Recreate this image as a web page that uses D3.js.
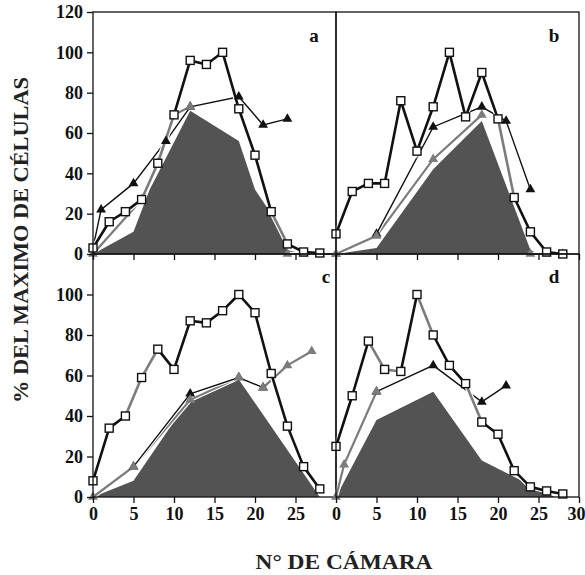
<!DOCTYPE html>
<html>
<head>
<meta charset="utf-8">
<script src="https://cdn.jsdelivr.net/npm/d3@7"></script>
<style>
  body { margin: 0; background: #fff; }
  text { font-family: "Liberation Serif", "DejaVu Serif", serif; }
</style>
</head>
<body>
<svg id="chart" width="585" height="575"></svg>
<script>
// chamber numbers of the open-square series
var sqX = [0, 2, 4, 6, 8, 10, 12, 14, 16, 18, 20, 22, 24, 26, 28];

// open squares, % of maximum
var sqA = [3, 16, 21, 27, 45, 69, 96, 94, 100, 72, 49, 21, 5, 1, 0.5];
var sqB = [10, 31, 35, 35, 76, 51, 73, 100, 68, 90, 67, 28, 11, 1, 0];
var sqC = [8, 34, 40, 59, 73, 63, 87, 86, 92, 100, 91, 61, 35, 15, 4];
var sqD = [25, 50, 77, 63, 62, 100, 80, 65, 56, 37, 31, 13, 5, 3, 1.5];
// segments of the square line that print grey
var sqGreyA = [3, 4, 11];
var sqGreyB = [10];
var sqGreyC = [2, 3];
var sqGreyD = [2, 3, 5, 8];

// black triangles
var blkXA = [0, 1, 5, 9, 12, 18, 21, 24];
var blkYA = [3, 22, 35, 56, 73, 78, 64, 67];
var blkXB = [5, 12, 18, 21, 24];
var blkYB = [10, 63, 73, 66, 32];
var blkXC = [5, 12, 18, 21];
var blkYC = [15, 51, 59, 54];
var blkXD = [5, 12, 18, 21];
var blkYD = [52, 65, 47, 55];

// grey triangles (null = break in the line)
var gryXA = [0, 6, 8, 10, 12, null, 24, 26, 28, 30];
var gryYA = [0, 27, 45, 69, 73, null, 0, 0, 0, 0];
var gryXB = [0, 5, 12, 18, null, 24, 26, 28];
var gryYB = [0, 9, 47, 69, null, 0, 0, 0];
var gryXC = [0, 5, 12, 18, 21, 24, 27];
var gryYC = [0, 15, 48, 59, 54, 65, 72];
var gryXD = [0, 1, 5];
var gryYD = [0, 16, 52];

// filled area
var areaXA = [0, 5, 7, 12, 18, 20, 22, 24, 26, 30];
var areaYA = [0, 11, 32, 71, 56, 32, 20, 2, 0, 0];
var areaXB = [0, 5, 12, 18, 24, 25, 30];
var areaYB = [0, 3, 42, 66, 2, 0, 0];
var areaXC = [0, 5, 11.5, 18, 28, 30];
var areaYC = [0, 8, 46, 58, 0, 0];
var areaXD = [0, 5, 12, 18, 25, 27, 30];
var areaYD = [0, 38, 52, 18, 4, 0, 0];

var yTicksTop = [0, 20, 40, 60, 80, 100, 120];
var yTicksBottom = [0, 20, 40, 60, 80, 100];
var xTicksLeft = [0, 5, 10, 15, 20, 25];
var xTicksRight = [0, 5, 10, 15, 20, 25, 30];

function pts(xa, ya) {
  return xa.map(function(x, i) { return [x, ya[i]]; });
}

var panels = [
  {lab: "a", x0: 93, x1: 336, y0: 254, y1: 12, sq: sqA, sqg: sqGreyA, blk: pts(blkXA, blkYA), gry: pts(gryXA, gryYA), area: pts(areaXA, areaYA), left: true, bottom: false, lx: 314, ly: 42},
  {lab: "b", x0: 336, x1: 579, y0: 254, y1: 12, sq: sqB, sqg: sqGreyB, blk: pts(blkXB, blkYB), gry: pts(gryXB, gryYB), area: pts(areaXB, areaYB), left: false, bottom: false, lx: 554, ly: 42},
  {lab: "c", x0: 93, x1: 336, y0: 497, y1: 254, sq: sqC, sqg: sqGreyC, blk: pts(blkXC, blkYC), gry: pts(gryXC, gryYC), area: pts(areaXC, areaYC), left: true, bottom: true, lx: 326, ly: 283},
  {lab: "d", x0: 336, x1: 579, y0: 497, y1: 254, sq: sqD, sqg: sqGreyD, blk: pts(blkXD, blkYD), gry: pts(gryXD, gryYD), area: pts(areaXD, areaYD), left: false, bottom: true, lx: 554, ly: 283}
];

var svg = d3.select("#chart");
var GREY = "#7c7c7c", DARK = "#535353";

panels.forEach(function(p) {
  var x = d3.scaleLinear().domain([0, 30]).range([p.x0, p.x1]);
  var y = d3.scaleLinear().domain([0, 120]).range([p.y0, p.y1]);
  var g = svg.append("g");

  var area = d3.area().x(function(d) { return x(d[0]); }).y0(y(0)).y1(function(d) { return y(d[1]); });
  g.append("path").datum(p.area).attr("d", area).attr("fill", DARK);

  var line = d3.line()
    .defined(function(d) { return d[0] != null; })
    .x(function(d) { return x(d[0]); })
    .y(function(d) { return y(d[1]); });

  // grey line
  g.append("path").datum(p.gry).attr("d", line).attr("fill", "none")
    .attr("stroke", "#fff").attr("stroke-width", 4.5);
  g.append("path").datum(p.gry).attr("d", line).attr("fill", "none")
    .attr("stroke", GREY).attr("stroke-width", 2.2);

  // black triangle line
  g.append("path").datum(p.blk).attr("d", line).attr("fill", "none")
    .attr("stroke", "#fff").attr("stroke-width", 3.5);
  g.append("path").datum(p.blk).attr("d", line).attr("fill", "none")
    .attr("stroke", "#111").attr("stroke-width", 1.4);

  // square line, segment by segment
  var sq = pts(sqX, p.sq);
  g.append("path").datum(sq).attr("d", line).attr("fill", "none")
    .attr("stroke", "#fff").attr("stroke-width", 5);
  d3.range(sq.length - 1).forEach(function(i) {
    g.append("line")
      .attr("x1", x(sq[i][0])).attr("y1", y(sq[i][1]))
      .attr("x2", x(sq[i + 1][0])).attr("y2", y(sq[i + 1][1]))
      .attr("stroke", p.sqg.indexOf(i) >= 0 ? GREY : "#111")
      .attr("stroke-width", 2.6).attr("stroke-linecap", "round");
  });

  var tri = d3.symbol().type(d3.symbolTriangle).size(42);
  g.selectAll(".bt").data(p.blk).enter().append("path")
    .attr("transform", function(d) { return "translate(" + x(d[0]) + "," + y(d[1]) + ")"; })
    .attr("d", tri).attr("fill", "#111");
  g.selectAll(".gt").data(p.gry.filter(function(d) { return d[0] != null; })).enter().append("path")
    .attr("transform", function(d) { return "translate(" + x(d[0]) + "," + y(d[1]) + ")"; })
    .attr("d", tri).attr("fill", GREY);

  g.selectAll(".sq").data(sq).enter().append("rect")
    .attr("x", function(d) { return x(d[0]) - 4; })
    .attr("y", function(d) { return y(d[1]) - 4; })
    .attr("width", 8).attr("height", 8)
    .attr("fill", "#fff").attr("stroke", "#111").attr("stroke-width", 1.4);

  // frame
  g.append("rect").attr("x", p.x0).attr("y", p.y1)
    .attr("width", p.x1 - p.x0).attr("height", p.y0 - p.y1)
    .attr("fill", "none").attr("stroke", "#111").attr("stroke-width", 1.3);

  // axes
  var xa = d3.axisBottom(x).tickValues(p.left ? xTicksLeft : xTicksRight).tickSize(6).tickPadding(4);
  if (!p.bottom) xa.tickFormat("");
  var gx = g.append("g").attr("transform", "translate(0," + p.y0 + ")").call(xa);
  gx.select(".domain").remove();
  gx.selectAll("line").attr("stroke", "#111").attr("stroke-width", 1.3);
  gx.selectAll("text").attr("font-size", 18).attr("font-weight", "bold").attr("fill", "#111")
    .attr("font-family", "Liberation Serif, serif")
    .attr("dx", function(d) { return d === 30 ? -3 : 0; });

  if (p.left) {
    var ya = d3.axisLeft(y).tickValues(p.bottom ? yTicksBottom : yTicksTop).tickSize(6).tickPadding(4);
    var gy = g.append("g").attr("transform", "translate(" + p.x0 + ",0)").call(ya);
    gy.select(".domain").remove();
    gy.selectAll("line").attr("stroke", "#111").attr("stroke-width", 1.3);
    gy.selectAll("text").attr("font-size", 18).attr("font-weight", "bold").attr("fill", "#111")
      .attr("font-family", "Liberation Serif, serif");
  }

  g.append("text").attr("x", p.lx).attr("y", p.ly).attr("text-anchor", "middle")
    .attr("font-size", 19).attr("font-weight", "bold").attr("fill", "#111").text(p.lab);
});

svg.append("text")
  .attr("transform", "translate(28,240) rotate(-90)")
  .attr("text-anchor", "middle")
  .attr("font-size", 21).attr("font-weight", "bold").attr("fill", "#222")
  .attr("textLength", 326).attr("lengthAdjust", "spacingAndGlyphs")
  .text("% DEL MAXIMO DE CÉLULAS");

svg.append("text")
  .attr("x", 344).attr("y", 569)
  .attr("text-anchor", "middle")
  .attr("font-size", 20).attr("font-weight", "bold").attr("fill", "#222")
  .attr("textLength", 177).attr("lengthAdjust", "spacingAndGlyphs")
  .text("N° DE CÁMARA");
</script>
</body>
</html>
